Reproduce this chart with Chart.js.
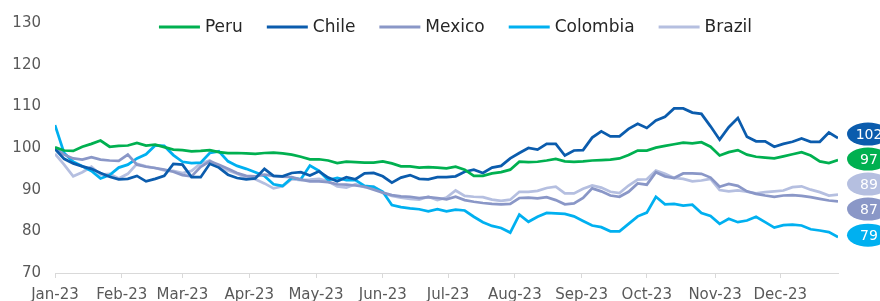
<!DOCTYPE html>
<html>
<head>
<meta charset="utf-8">
<script src="https://cdn.jsdelivr.net/npm/chart.js@4.4.0/dist/chart.umd.min.js"></script>
<style>
  html, body { margin: 0; padding: 0; background: #fff; }
  #wrap { width: 880px; height: 301px; position: relative; }
</style>
</head>
<body>
<div id="wrap"><canvas id="chart"></canvas></div>
<script>
// trading-day index of each sample (every 3rd session)
const days = [0,3,6,9,12,15,18,21,24,27,30,33,36,39,42,45,48,51,54,57,60,63,66,69,72,75,78,81,84,87,
  90,93,96,99,102,105,108,111,114,117,120,123,126,129,132,135,138,141,144,147,150,153,156,159,162,165,168,171,174,177,
  180,183,186,189,192,195,198,201,204,207,210,213,216,219,222,225,228,231,234,237,240,243,246,249,252,255,258];

const monthLabels = ['Jan-23','Feb-23','Mar-23','Apr-23','May-23','Jun-23','Jul-23','Aug-23','Sep-23','Oct-23','Nov-23','Dec-23'];
const monthStarts = [0, 22, 42, 64, 86, 108, 129.5, 151.5, 173.5, 195, 217.5, 239];

const peru = [100.2,99.4,99.3,100.3,101,101.8,100.3,100.5,100.6,101.2,
  100.6,100.8,100.2,99.6,99.5,99.2,99.3,99.5,99,98.8,
  98.8,98.7,98.6,98.8,98.9,98.7,98.4,97.9,97.3,97.3,
  97,96.4,96.7,96.6,96.5,96.5,96.8,96.3,95.6,95.6,
  95.3,95.4,95.3,95.1,95.5,94.8,93.3,93.3,93.9,94.2,
  94.8,96.7,96.6,96.7,97,97.4,96.8,96.7,96.8,97,
  97.1,97.2,97.5,98.3,99.4,99.4,100.1,100.5,100.9,101.3,
  101.1,101.4,100.3,98.2,99,99.5,98.4,97.9,97.7,97.5,
  98,98.5,99,98.2,96.8,96.4,97.1];

const chile = [99.8,97.4,96.3,95.6,95,94,93.1,92.5,92.6,93.3,
  92,92.6,93.3,96.2,96,93,93,96.2,95.3,93.6,
  92.8,92.5,92.7,95,93.3,93.2,94,94.2,93.4,94.4,
  92.9,92,93,92.5,93.9,94,93.2,91.7,92.9,93.5,
  92.6,92.5,93,93,93.2,94.3,94.8,94,95.3,95.7,
  97.5,98.8,100,99.6,101,101,98.2,99.4,99.5,102.5,
  104,102.8,102.8,104.6,105.8,104.8,106.6,107.5,109.5,109.5,
  108.5,108.2,105.2,102,105,107.2,102.7,101.6,101.6,100.3,
  101,101.5,102.3,101.5,101.5,103.7,102.4];

const mexico = [100,98.4,97.5,97.2,97.8,97.2,97,96.9,98.4,96,
  95.5,95.2,94.8,94.3,93.5,93.2,95.5,96.8,96,95,
  94,93.3,93.2,93.6,93.3,93.1,93,92.4,92,92,
  91.8,91.3,91.2,91,90.7,90,89.3,88.7,88.4,88.3,
  88,88.2,88,87.7,88.3,87.5,87.1,86.8,86.6,86.5,
  86.6,88,88.1,87.9,88.2,87.5,86.5,86.7,88,90.3,
  89.6,88.6,88.3,89.5,91.5,91.2,94.2,93.2,92.8,93.9,
  93.9,93.8,92.9,90.7,91.4,90.9,89.6,89,88.6,88.3,
  88.6,88.7,88.5,88.2,87.8,87.4,87.2];

const colombia = [105.5,98.8,96.7,95.6,94.5,92.7,93.5,95.3,96,97.5,
  98.5,100.6,100.5,98.3,96.7,96.4,96.5,98.8,99.2,96.8,
  95.7,95,94.2,93.3,91.3,90.9,92.8,92.5,95.8,94.5,
  92.3,92.8,92.3,92.3,90.9,90.7,89.5,86.3,85.8,85.5,
  85.3,84.8,85.3,84.8,85.2,85,83.5,82.2,81.3,80.8,
  79.7,84,82.3,83.5,84.4,84.3,84.2,83.6,82.5,81.4,
  81,80,80,81.8,83.6,84.5,88.3,86.5,86.6,86.2,
  86.4,84.4,83.7,81.8,83,82.2,82.6,83.5,82.2,80.9,
  81.5,81.6,81.4,80.5,80.2,79.8,78.6];

const brazil = [98.6,96,93.2,94.2,95.5,93.6,93.8,92.7,93.8,96.2,
  95.6,95.2,94.6,94.5,94,94.5,96.3,97,95.6,94.6,
  93.8,92.8,92.5,91.5,90.3,90.8,92.5,92.3,92.4,92.6,
  92,90.8,90.5,91.3,90.6,90.7,89.2,88.5,88.1,87.8,
  87.6,88.3,87.5,88.1,89.8,88.5,88.3,88.2,87.6,87.3,
  87.6,89.5,89.5,89.7,90.4,90.7,89.1,89.1,90.2,91,
  90.5,89.5,89.2,91,92.4,92.5,94.6,93.8,92.8,92.6,
  92,92.2,92.6,89.9,89.6,89.8,89.5,89.1,89.4,89.6,
  89.8,90.6,90.8,90,89.4,88.6,88.8];

const FONT = 'DejaVu Sans';

function series(label, values, color) {
  return {
    label: label,
    data: days.map((d, i) => ({x: d, y: values[i]})),
    borderColor: color,
    backgroundColor: color,
    borderWidth: 2.75,
    pointRadius: 0,
    tension: 0
  };
}

// rounded value tags at the right end of each line
const endBadges = {
  id: 'endBadges',
  afterDatasetsDraw(chart) {
    const ctx = chart.ctx;
    const y = chart.scales.y;
    const items = chart.data.datasets.map(ds => {
      const last = ds.data[ds.data.length - 1].y;
      return {v: last, y: y.getPixelForValue(last), color: ds.borderColor};
    });
    items.sort((a, b) => a.y - b.y);
    const gap = 25;
    for (let k = 0; k < 50; k++) {
      for (let i = 1; i < items.length; i++) {
        const d = items[i].y - items[i - 1].y;
        if (d < gap) {
          const s = (gap - d) / 2;
          items[i - 1].y -= s;
          items[i].y += s;
        }
      }
    }
    ctx.save();
    items.forEach(it => {
      ctx.beginPath();
      ctx.ellipse(868, it.y - 2, 21, 11.5, 0, 0, Math.PI * 2);
      ctx.fillStyle = it.color;
      ctx.fill();
      ctx.fillStyle = '#ffffff';
      ctx.font = '14px "' + FONT + '"';
      ctx.textAlign = 'center';
      ctx.textBaseline = 'middle';
      ctx.fillText(String(Math.round(it.v)), 869, it.y - 1);
    });
    ctx.restore();
  }
};

// one-row legend drawn inside the top of the plot
const topLegend = {
  id: 'topLegend',
  afterDraw(chart) {
    const ctx = chart.ctx;
    const area = chart.chartArea;
    const sample = 41, textGap = 5, itemGap = 24, y = 27;
    ctx.save();
    ctx.font = '17px "' + FONT + '"';
    ctx.textBaseline = 'middle';
    ctx.textAlign = 'left';
    const widths = chart.data.datasets.map(ds => sample + textGap + ctx.measureText(ds.label).width);
    const total = widths.reduce((a, b) => a + b, 0) + itemGap * (widths.length - 1);
    let x = (area.left + area.right) / 2 + 9 - total / 2;
    chart.data.datasets.forEach((ds, i) => {
      ctx.strokeStyle = ds.borderColor;
      ctx.lineWidth = 3;
      ctx.beginPath();
      ctx.moveTo(x, y);
      ctx.lineTo(x + sample, y);
      ctx.stroke();
      ctx.fillStyle = '#262626';
      ctx.fillText(ds.label, x + sample + textGap, y + 1);
      x += widths[i] + itemGap;
    });
    ctx.restore();
  }
};

new Chart(document.getElementById('chart'), {
  type: 'line',
  data: {
    datasets: [
      series('Peru', peru, '#00b050'),
      series('Chile', chile, '#0b5cad'),
      series('Mexico', mexico, '#8a97c7'),
      series('Colombia', colombia, '#00b0f0'),
      series('Brazil', brazil, '#b5bfe0')
    ]
  },
  options: {
    responsive: true,
    maintainAspectRatio: false,
    animation: false,
    layout: { padding: { left: 13, right: 42, top: 20, bottom: 0 } },
    plugins: {
      tooltip: { enabled: false },
      legend: { display: false }
    },
    scales: {
      x: {
        type: 'linear',
        min: 0,
        max: 258,
        afterBuildTicks: scale => {
          scale.ticks = monthStarts.map(v => ({value: v}));
        },
        afterFit: scale => { scale.height = 28; },
        ticks: {
          autoSkip: false,
          maxRotation: 0,
          padding: 8,
          color: '#595959',
          font: { family: FONT, size: 15 },
          callback: (v, i) => monthLabels[i]
        },
        grid: { drawOnChartArea: false, drawTicks: true, tickLength: 5, color: '#d9d9d9' },
        border: { color: '#d9d9d9' }
      },
      y: {
        min: 70,
        max: 130,
        afterFit: scale => { scale.width = 42; },
        ticks: {
          stepSize: 10,
          padding: 14,
          color: '#595959',
          font: { family: FONT, size: 15 }
        },
        grid: { display: false, drawTicks: false },
        border: { display: false }
      }
    }
  },
  plugins: [endBadges, topLegend]
});
</script>
</body>
</html>
